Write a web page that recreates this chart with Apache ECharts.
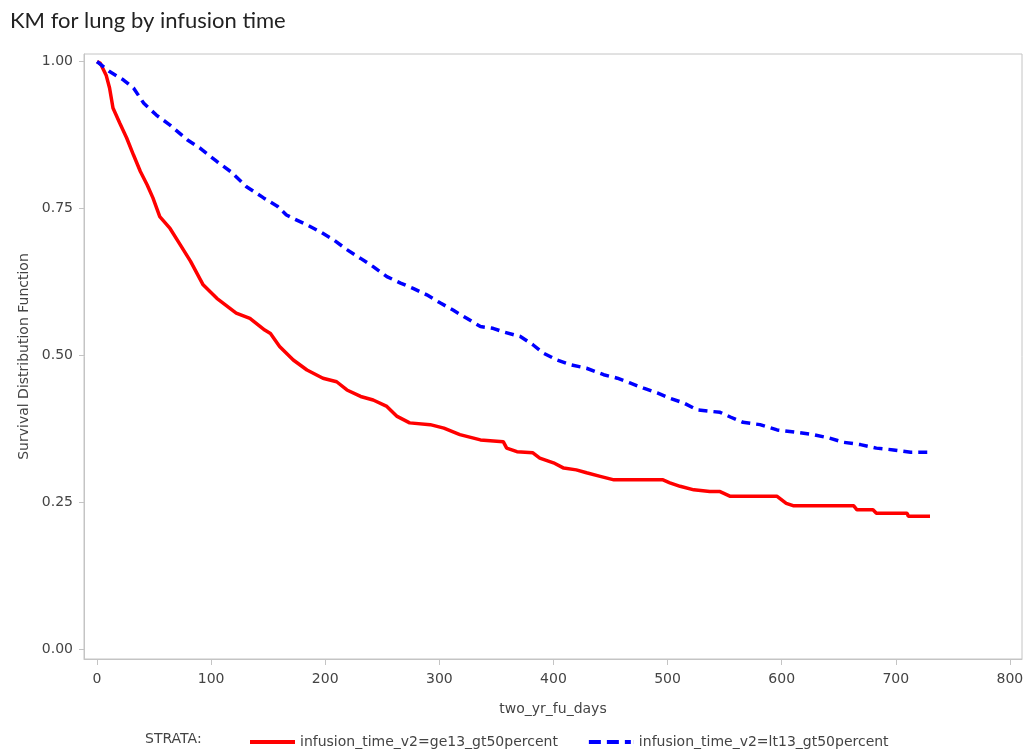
<!DOCTYPE html>
<html>
<head>
<meta charset="utf-8">
<script src="https://cdn.jsdelivr.net/npm/echarts@6.0.0/dist/echarts.min.js"></script>
<style>
html,body{margin:0;padding:0;background:#fff;}
#chart{width:1027px;height:751px;}
</style>
</head>
<body>
<div id="chart"></div>
<script>
// ---- data ----
var chartTitle = 'KM for lung by infusion time';
var xName = 'two_yr_fu_days';
var yName = 'Survival Distribution Function';
var legendTitle = 'STRATA:';
var seriesNames = ['infusion_time_v2=ge13_gt50percent', 'infusion_time_v2=lt13_gt50percent'];
var xTicks = [0, 100, 200, 300, 400, 500, 600, 700, 800];
var yTicks = [0, 0.25, 0.5, 0.75, 1];

var redDays = [0,3,8,11,14,20,26,32,38,44,49,55,64,73,82,93,105,122,134,147,152,160,172,184,198,210,219,231,242,254,263,274,292,304,318,336,356,359,368,382,388,400,409,420,429,441,453,496,502,511,523,537,546,555,596,604,610,663,666,680,683,710,711,730];
var redSurv = [1.000,0.997,0.977,0.955,0.921,0.895,0.870,0.841,0.813,0.790,0.768,0.736,0.716,0.688,0.660,0.620,0.597,0.572,0.563,0.543,0.537,0.515,0.492,0.475,0.461,0.455,0.441,0.430,0.424,0.413,0.396,0.385,0.382,0.376,0.365,0.356,0.353,0.342,0.336,0.334,0.325,0.317,0.308,0.305,0.300,0.294,0.288,0.288,0.283,0.277,0.271,0.268,0.268,0.260,0.260,0.248,0.244,0.244,0.237,0.237,0.231,0.231,0.226,0.226];

var blueDays = [0,11,23,32,41,52,64,79,90,105,117,131,146,158,166,172,184,195,207,219,231,242,254,266,277,289,301,312,324,336,347,356,371,382,391,403,415,429,444,456,467,479,491,502,514,526,546,555,566,581,596,613,628,642,654,669,683,698,713,730];
var blueSurv = [1.000,0.983,0.969,0.955,0.929,0.909,0.892,0.867,0.853,0.830,0.813,0.787,0.768,0.754,0.739,0.733,0.722,0.711,0.697,0.680,0.665,0.651,0.634,0.623,0.614,0.603,0.589,0.577,0.563,0.549,0.546,0.540,0.532,0.518,0.504,0.492,0.484,0.478,0.467,0.461,0.453,0.444,0.436,0.427,0.419,0.407,0.403,0.395,0.386,0.382,0.373,0.369,0.365,0.359,0.352,0.348,0.342,0.339,0.335,0.335];

function zip(a, b) { return a.map(function (v, i) { return [v, b[i]]; }); }

var chart = echarts.init(document.getElementById('chart'), null, {renderer: 'canvas'});
var frameColor = '#c4c4c4';
var labelColor = '#444444';
var fontFam = '"DejaVu Sans", sans-serif';
var fs = 14;

chart.setOption({
  animation: false,
  backgroundColor: '#ffffff',
  title: {
    text: chartTitle,
    left: 5, top: 5,
    textStyle: {fontFamily: 'Lato, "Open Sans", sans-serif', fontSize: 22, fontWeight: 'normal', color: '#222'}
  },
  grid: {
    left: 84, right: 5, top: 54, bottom: 92,
    show: true, borderColor: frameColor, borderWidth: 1
  },
  xAxis: {
    type: 'value',
    min: -11.4, max: 810.6,
    name: xName,
    nameLocation: 'middle',
    nameGap: 43,
    nameTextStyle: {fontFamily: fontFam, fontSize: fs, color: labelColor},
    axisLine: {show: true, onZero: false, lineStyle: {color: frameColor}},
    axisTick: {show: true, length: 6, customValues: xTicks, lineStyle: {color: frameColor}},
    axisLabel: {customValues: xTicks, margin: 13, fontFamily: fontFam, fontSize: fs, color: labelColor},
    splitLine: {show: false}
  },
  yAxis: {
    type: 'value',
    min: -0.017, max: 1.013,
    name: yName,
    nameLocation: 'middle',
    nameGap: 50,
    nameTextStyle: {fontFamily: fontFam, fontSize: fs, color: labelColor},
    axisLine: {show: true, onZero: false, lineStyle: {color: frameColor}},
    axisTick: {show: true, length: 5, customValues: yTicks, lineStyle: {color: frameColor}},
    axisLabel: {customValues: yTicks, margin: 11, fontFamily: fontFam, fontSize: fs, color: labelColor,
      formatter: function (v) { return v.toFixed(2); }},
    splitLine: {show: false}
  },
  legend: {
    left: 245, top: 730,
    itemWidth: 45, itemHeight: 4, itemGap: 31,
    textStyle: {fontFamily: fontFam, fontSize: fs, color: labelColor},
    data: [
      {name: seriesNames[0], icon: 'path://M0,0h45v4h-45z'},
      {name: seriesNames[1], icon: 'path://M0,0h12v4h-12z M18,0h12v4h-12z M36,0h6v4h-6z M44.9,0h0.1v4h-0.1z'}
    ]
  },
  graphic: [{
    type: 'text', left: 145, top: 732,
    style: {text: legendTitle, fontFamily: fontFam, fontSize: fs, fill: labelColor}
  }],
  series: [
    {
      name: seriesNames[0], type: 'line', data: zip(redDays, redSurv),
      showSymbol: false, symbol: 'none',
      lineStyle: {color: '#ff0000', width: 3.5}, itemStyle: {color: '#ff0000'}
    },
    {
      name: seriesNames[1], type: 'line', data: zip(blueDays, blueSurv),
      showSymbol: false, symbol: 'none',
      lineStyle: {color: '#0000ff', width: 3.5, type: [9, 6]}, itemStyle: {color: '#0000ff'}
    }
  ]
});
</script>
</body>
</html>
